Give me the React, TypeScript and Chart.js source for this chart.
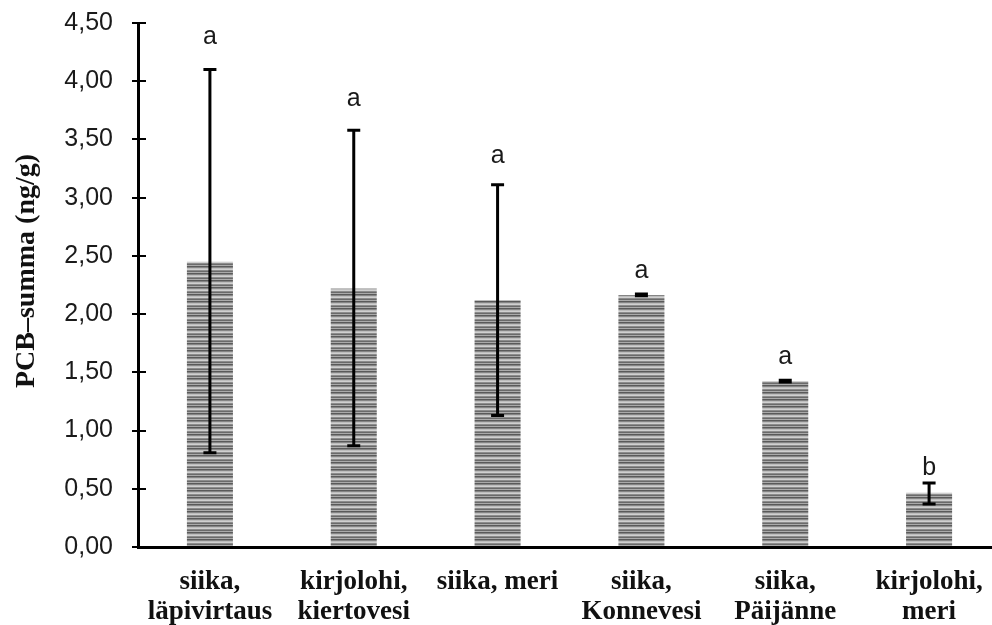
import { useEffect, useRef } from 'react';
import { Chart, registerables } from 'chart.js';

Chart.register(...registerables);

const categories: string[][] = [
  ['siika,', 'läpivirtaus'],
  ['kirjolohi,', 'kiertovesi'],
  ['siika, meri'],
  ['siika,', 'Konnevesi'],
  ['siika,', 'Päijänne'],
  ['kirjolohi,', 'meri'],
];
const means = [2.45, 2.22, 2.12, 2.165, 1.425, 0.465];
const errHigh = [4.1, 3.58, 3.11, 2.172, 1.432, 0.55];
const errLow = [0.81, 0.87, 1.13, 2.158, 1.418, 0.37];
const letters = ['a', 'a', 'a', 'a', 'a', 'b'];
const letterPos = [4.38, 3.85, 3.36, 2.37, 1.63, 0.68];
const yTickValues = [0, 0.5, 1, 1.5, 2, 2.5, 3, 3.5, 4, 4.5];
const yTitle = '    PCB–summa (ng/g)';
const stripeColors = ['#5a5a5a', '#858585', '#bdbdbd', '#d0d0d0', '#8c8c8c', '#6a6a6a', '#aaaaaa'];

const overlayPlugin = {
  id: 'overlay',
  afterDatasetsDraw(chart: any) {
    const { ctx, chartArea } = chart;
    const y = chart.scales.y;
    const meta = chart.getDatasetMeta(0);
    ctx.save();
    // inner half of the cross ticks on the y axis
    ctx.strokeStyle = '#000';
    ctx.lineWidth = 2;
    yTickValues.forEach((v) => {
      if (v === 0) return;
      const py = Math.round(y.getPixelForValue(v));
      ctx.beginPath();
      ctx.moveTo(chartArea.left, py);
      ctx.lineTo(chartArea.left + 8, py);
      ctx.stroke();
    });
    // error bars
    ctx.lineWidth = 3;
    meta.data.forEach((bar: any, i: number) => {
      const x = bar.x;
      const yh = y.getPixelForValue(errHigh[i]);
      const yl = y.getPixelForValue(errLow[i]);
      ctx.beginPath();
      ctx.moveTo(x, yh);
      ctx.lineTo(x, yl);
      ctx.moveTo(x - 6.5, yh);
      ctx.lineTo(x + 6.5, yh);
      ctx.moveTo(x - 6.5, yl);
      ctx.lineTo(x + 6.5, yl);
      ctx.stroke();
    });
    // significance letters
    ctx.fillStyle = '#1a1a1a';
    ctx.font = '25px "Liberation Sans", Arial, sans-serif';
    ctx.textAlign = 'center';
    ctx.textBaseline = 'middle';
    meta.data.forEach((bar: any, i: number) => {
      ctx.fillText(letters[i], bar.x, y.getPixelForValue(letterPos[i]));
    });
    ctx.restore();
  },
};

export default function App() {
  const ref = useRef<HTMLCanvasElement>(null);
  useEffect(() => {
    const canvas = ref.current!;
    const pc = document.createElement('canvas');
    pc.width = 4;
    pc.height = stripeColors.length;
    const pctx = pc.getContext('2d')!;
    stripeColors.forEach((c, i) => {
      pctx.fillStyle = c;
      pctx.fillRect(0, i, 4, 1);
    });
    const pattern = canvas.getContext('2d')!.createPattern(pc, 'repeat')!;

    const chart = new Chart(canvas, {
      type: 'bar',
      data: {
        labels: categories,
        datasets: [
          {
            data: means,
            backgroundColor: pattern as any,
            borderWidth: 0,
            barPercentage: 0.32,
            categoryPercentage: 1,
          },
        ],
      },
      options: {
        responsive: false,
        animation: false,
        devicePixelRatio: 1,
        layout: { padding: { top: 23, right: 0, left: 0, bottom: 0 } },
        plugins: { legend: { display: false }, tooltip: { enabled: false } },
        scales: {
          x: {
            grid: { display: false },
            border: { display: true, color: '#000', width: 3 },
            ticks: {
              color: '#111',
              font: { family: '"Liberation Serif", serif', size: 27, weight: 'bold', lineHeight: 1.11 },
              padding: 12,
              maxRotation: 0,
              autoSkip: false,
            },
            afterFit: (s: any) => {
              s.height = 78;
              s.paddingLeft = 0;
              s.paddingRight = 0;
            },
          },
          y: {
            min: 0,
            max: 4.5,
            afterBuildTicks: (s: any) => {
              s.ticks = yTickValues.map((value) => ({ value }));
            },
            grid: { display: true, drawOnChartArea: false, drawTicks: true, tickLength: 6, color: '#000', lineWidth: 2 },
            border: { display: true, color: '#000', width: 3 },
            ticks: {
              padding: 19,
              color: '#1a1a1a',
              font: { family: '"Liberation Sans", Arial, sans-serif', size: 25 },
              callback: (v: any) => Number(v).toFixed(2).replace('.', ','),
            },
            title: {
              display: true,
              text: yTitle,
              color: '#111',
              font: { family: '"Liberation Serif", serif', size: 28, weight: 'bold', lineHeight: 1.2 },
              padding: { top: 10, bottom: 0 },
            },
            afterFit: (s: any) => {
              s.width = 138;
              s.paddingTop = 0;
              s.paddingBottom = 0;
            },
          },
        },
      },
      plugins: [overlayPlugin],
    });
    return () => chart.destroy();
  }, []);

  return (
    <div
      style={{
        position: 'fixed',
        left: 0,
        top: 0,
        width: 992,
        height: 625,
        overflow: 'hidden',
        background: '#fff',
      }}
    >
      <canvas ref={ref} width={1001} height={625} style={{ width: 1001, height: 625, display: 'block' }} />
    </div>
  );
}
